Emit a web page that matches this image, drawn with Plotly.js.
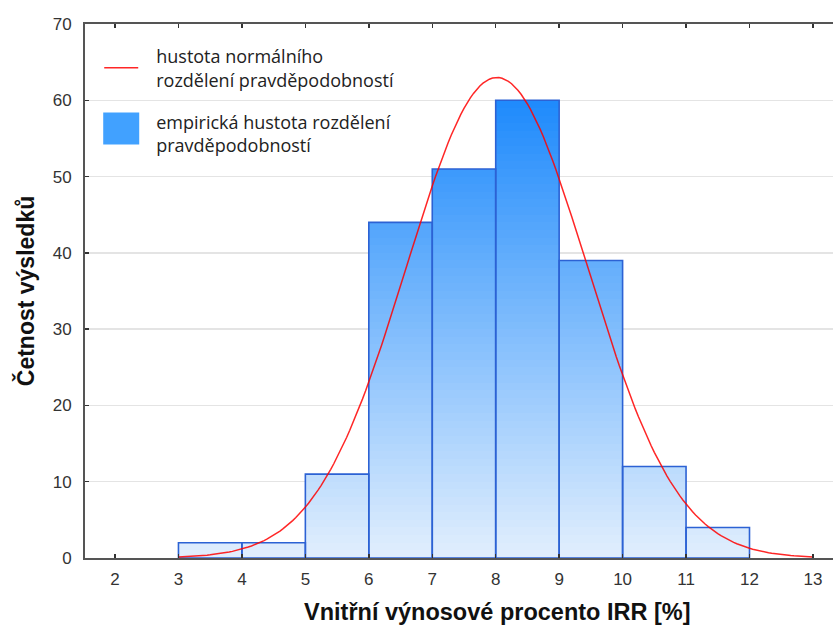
<!DOCTYPE html>
<html>
<head>
<meta charset="utf-8">
<script src="https://cdn.plot.ly/plotly-3.0.1.min.js"></script>
<style>html,body{margin:0;padding:0;background:#fff;}#chart{width:833px;height:626px;}</style>
</head>
<body>
<div id="chart"></div>
<script>
// Histogram bins (lower edge of each 1-percentage-point bin) and counts
const binStart = [3, 4, 5, 6, 7, 8, 9, 10, 11];
const binWidth = 1;
const counts   = [2, 2, 11, 44, 51, 60, 39, 12, 4];

// Fitted normal density
const normMean = 8.02;
const normSd   = 1.425;
const curveFrom = 3;
const curveTo   = 13;

const xTickVals = [2, 3, 4, 5, 6, 7, 8, 9, 10, 11, 12, 13];
const yTickVals = [0, 10, 20, 30, 40, 50, 60, 70];

const lineName = 'hustota normálního<br>rozdělení pravděpodobností';
const barName  = 'empirická hustota rozdělení<br>pravděpodobností';
const xTitle = 'Vnitřní výnosové procento IRR [%]';
const yTitle = 'Četnost výsledků';

// ---- build traces ----
const xCenters = binStart.map(s => s + binWidth / 2);
const total = counts.reduce((a, b) => a + b, 0);
const maxCount = Math.max(...counts);

const topColor = [30, 138, 252];
const botColor = [226, 239, 253];
function colAt(v) {
  const t = Math.max(0, Math.min(1, v / maxCount));
  const c = botColor.map((b, i) => Math.round(b + (topColor[i] - b) * t));
  return 'rgb(' + c.join(',') + ')';
}

const traces = [];
// gradient layers: draw highest layer first, lower layers on top
for (let top = maxCount; top >= 1; top--) {
  traces.push({
    type: 'bar',
    x: xCenters,
    y: counts.map(c => Math.min(c, top)),
    width: binWidth,
    marker: { color: colAt(top - 0.5), line: { width: 0 } },
    showlegend: false,
    hoverinfo: 'skip'
  });
}
// outline
traces.push({
  type: 'bar',
  x: xCenters,
  y: counts,
  width: binWidth,
  name: barName,
  marker: { color: 'rgba(0,0,0,0)', line: { color: '#2c62d4', width: 1.6 } },
  showlegend: false,
  hoverinfo: 'skip'
});
// legend entry for bars (no data drawn)
traces.push({
  type: 'bar',
  x: [null],
  y: [null],
  name: barName,
  legendgroup: 'b',
  marker: { color: '#41a1ff', line: { width: 0 } },
  legendrank: 2,
  hoverinfo: 'skip'
});

// normal curve
const cx = [], cy = [];
const nPts = 201;
for (let i = 0; i < nPts; i++) {
  const x = curveFrom + (curveTo - curveFrom) * i / (nPts - 1);
  const z = (x - normMean) / normSd;
  cx.push(x);
  cy.push(total * binWidth / (normSd * Math.sqrt(2 * Math.PI)) * Math.exp(-0.5 * z * z));
}
traces.push({
  type: 'scatter',
  mode: 'lines',
  x: cx,
  y: cy,
  name: lineName,
  legendgroup: 'a',
  line: { color: 'rgba(255,0,0,0.85)', width: 1.5 },
  legendrank: 1,
  hoverinfo: 'skip'
});

const axisFont = { family: 'Liberation Sans, Arial, sans-serif', size: 17, color: '#333' };
const titleFont = { family: 'Liberation Sans, Arial, sans-serif', size: 23, color: '#111', weight: 'bold' };

const layout = {
  width: 833,
  height: 626,
  margin: { l: 85, r: 0, t: 24, b: 68 },
  paper_bgcolor: '#ffffff',
  plot_bgcolor: '#ffffff',
  barmode: 'overlay',
  bargap: 0,
  showlegend: true,
  legend: {
    x: 0.015, y: 0.974, xanchor: 'left', yanchor: 'top',
    bgcolor: 'rgba(255,255,255,0)',
    font: { family: 'Open Sans, Noto Sans, sans-serif', size: 18, color: '#222' },
    traceorder: 'grouped',
    tracegroupgap: 16,
    itemwidth: 50
  },
  xaxis: {
    range: [1.527, 13.316],
    tickvals: xTickVals,
    ticktext: xTickVals.map(String),
    ticks: 'inside', ticklen: 4, tickwidth: 1.5, tickcolor: '#333',
    showline: true, linecolor: '#555', linewidth: 2, mirror: 'ticks',
    showgrid: false, zeroline: false,
    tickfont: axisFont,
    ticklabelstandoff: 5,
    title: { text: '' }
  },
  yaxis: {
    range: [0, 70],
    tickvals: yTickVals,
    ticktext: yTickVals.map(String),
    ticks: 'inside', ticklen: 4, tickwidth: 1.5, tickcolor: '#333',
    showline: true, linecolor: '#555', linewidth: 2,
    showgrid: true, gridcolor: '#e4e4e4', gridwidth: 1.5,
    zeroline: false,
    tickfont: axisFont,
    ticklabelstandoff: 8,
    title: { text: yTitle, font: titleFont, standoff: 12 }
  },
  annotations: [{
    xref: 'paper', yref: 'paper',
    x: (497 - 85) / 748, y: -0.1,
    xanchor: 'center', yanchor: 'middle',
    yshift: -1,
    showarrow: false,
    text: '<b>' + xTitle + '</b>',
    font: { family: 'Liberation Sans, Arial, sans-serif', size: 23.5, color: '#111' }
  }]
};

const gd = document.getElementById('chart');
Plotly.newPlot(gd, traces, layout, { displayModeBar: false, staticPlot: true }).then(function () {
  gd.querySelectorAll('.legend .traces').forEach(function (tr) {
    const t = tr.querySelector('.legendtext');
    if (!t) return;
    if (t.textContent.indexOf('empirick') === 0) {
      tr.querySelectorAll('.legendpoints path').forEach(function (p) {
        p.setAttribute('d', 'M13,11H-23V-21H13Z');
      });
    } else if (t.textContent.indexOf('hustota') === 0) {
      tr.querySelectorAll('.legendlines path').forEach(function (p) {
        p.setAttribute('d', 'M8,0h34');
      });
    }
  });
});
</script>
</body>
</html>
